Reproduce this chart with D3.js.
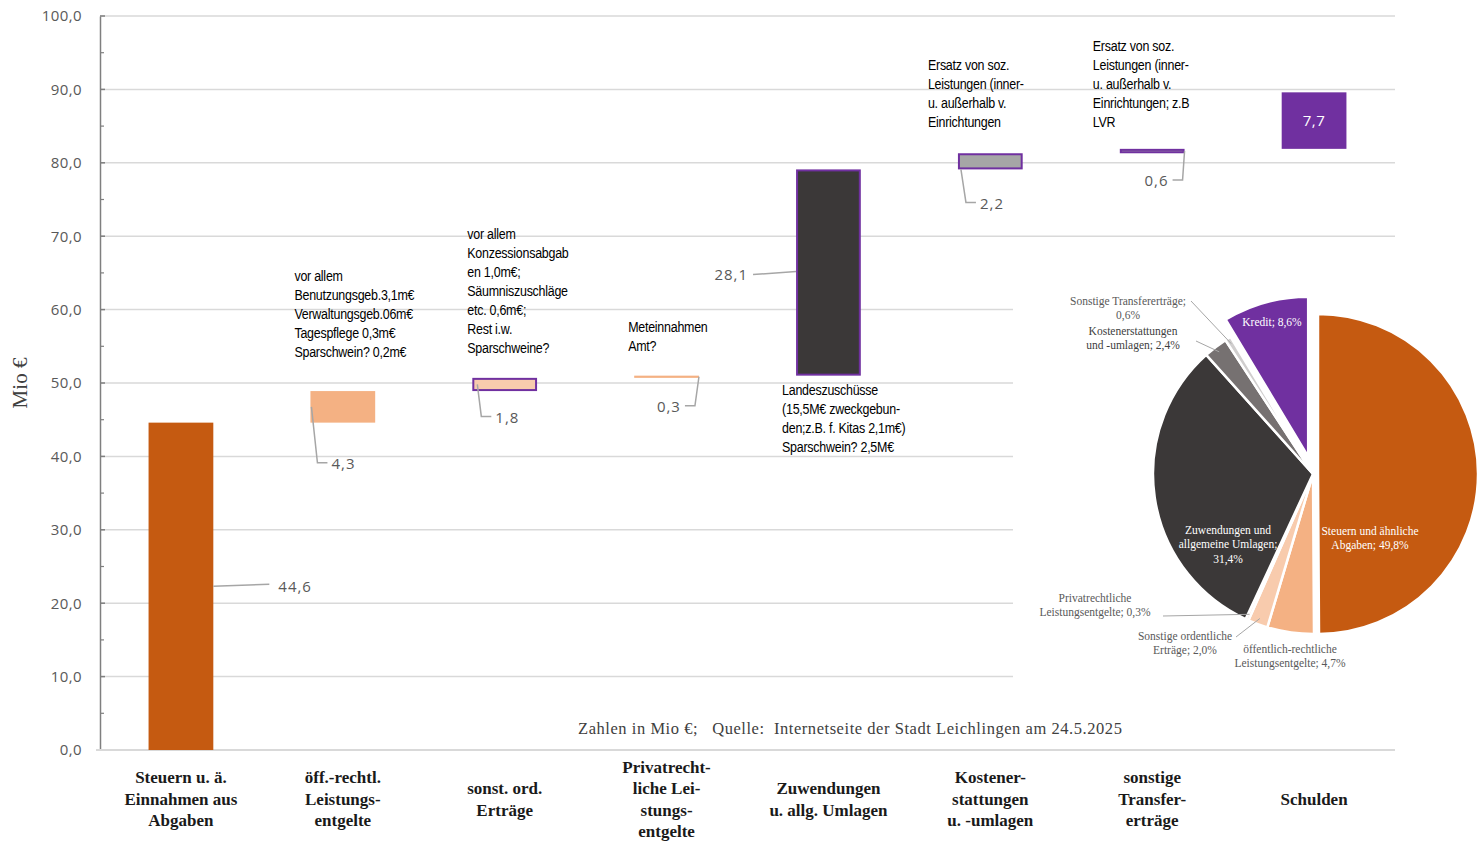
<!DOCTYPE html>
<html><head><meta charset="utf-8">
<script src="https://cdn.jsdelivr.net/npm/d3@7"></script>
<style>
html,body{margin:0;padding:0;background:#fff;}
svg{display:block;}
</style></head>
<body>
<svg id="c" width="1478" height="842"></svg>
<script>
// ---------- DATA ----------
const categories = [
  ["Steuern u. ä.", "Einnahmen aus", "Abgaben"],
  ["öff.-rechtl.", "Leistungs-", "entgelte"],
  ["sonst. ord.", "Erträge"],
  ["Privatrecht-", "liche  Lei-", "stungs-", "entgelte"],
  ["Zuwendungen", "u. allg. Umlagen"],
  ["Kostener-", "stattungen", "u. -umlagen"],
  ["sonstige", "Transfer-", "erträge"],
  ["Schulden"]
];
const values = [44.6, 4.3, 1.8, 0.3, 28.1, 2.2, 0.6, 7.7];
const yTicks = [0, 10, 20, 30, 40, 50, 60, 70, 80, 90, 100];
const yMinorTicks = [5, 15, 25, 35, 45, 55, 65, 75, 85, 95];
const annotations = [
  null,
  ["vor allem", "Benutzungsgeb.3,1m€", "Verwaltungsgeb.06m€", "Tagespflege 0,3m€", "Sparschwein? 0,2m€"],
  ["vor allem", "Konzessionsabgab", "en 1,0m€;", "Säumniszuschläge", "etc. 0,6m€;", "Rest i.w.", "Sparschweine?"],
  ["Meteinnahmen", "Amt?"],
  ["Landeszuschüsse", "(15,5M€ zweckgebun-", "den;z.B. f. Kitas 2,1m€)", "Sparschwein? 2,5M€"],
  ["Ersatz von soz.", "Leistungen (inner-", "u. außerhalb v.", "Einrichtungen"],
  ["Ersatz von soz.", "Leistungen (inner-", "u. außerhalb v.", "Einrichtungen; z.B", "LVR"],
  null
];
const pieLabels = [
  ["Steuern und ähnliche", "Abgaben; 49,8%"],
  ["öffentlich-rechtliche", "Leistungsentgelte; 4,7%"],
  ["Sonstige ordentliche", "Erträge; 2,0%"],
  ["Privatrechtliche", "Leistungsentgelte; 0,3%"],
  ["Zuwendungen und", "allgemeine Umlagen;", "31,4%"],
  ["Kostenerstattungen", "und -umlagen; 2,4%"],
  ["Sonstige Transfererträge;", "0,6%"],
  ["Kredit; 8,6%"]
];
const pieValues = [49.8, 4.7, 2.0, 0.3, 31.4, 2.4, 0.6, 8.6];
const footnote = "Zahlen in Mio €;   Quelle:  Internetseite der Stadt Leichlingen am 24.5.2025";
const yTitle = "Mio €";

// ---------- STYLES ----------
const barColors = ["#c55a11", "#f4b183", "#f8cbad", "#f4b183", "#3b3838", "#a6a6a6", "#a6a6a6", "#7030a0"];
const barBorders = [null, null, "#7030a0", null, "#7030a0", "#7030a0", "#7030a0", null];
const pieColors = ["#c55a11", "#f4b183", "#f8cbad", "#fbe5d6", "#3b3838", "#767171", "#d0cece", "#7030a0"];
const pieExplode = [5, 0, 0, 0, 0, 0, 0, 18];
const serif = "'Liberation Serif', 'DejaVu Serif', serif";
const sans = "'Open Sans', 'Noto Sans', sans-serif";
const narrow = "'Liberation Sans', Arial, sans-serif";

const svg = d3.select("#c");
const fmt = d3.formatLocale({decimal: ",", thousands: ".", grouping: [3], currency: ["", "€"]}).format(".1f");

const x = d3.scaleBand().domain(d3.range(values.length)).range([100, 1395]).paddingInner(0.6).paddingOuter(0.3);
const y = d3.scaleLinear().domain([0, 100]).range([750, 16]);
const bw = x.bandwidth();

// cumulative
let acc = 0;
const bars = values.map((v, i) => { const b = {i, v, start: acc, end: acc + v}; acc += v; return b; });

// gridlines
svg.append("g").selectAll("line").data(yTicks.filter(t => t > 0)).join("line")
  .attr("x1", 100).attr("x2", 1395).attr("y1", d => y(d)).attr("y2", d => y(d))
  .attr("stroke", "#d9d9d9").attr("stroke-width", 1.5);

// y axis
const yAxis = d3.axisLeft(y).tickValues(yTicks).tickFormat(d => fmt(d)).tickSize(0).tickPadding(18);
const ga = svg.append("g").attr("transform", "translate(100,0)").call(yAxis);
ga.select(".domain").attr("stroke", "#7f7f7f").attr("stroke-width", 1.5);
ga.selectAll("text").attr("font-family", sans).attr("font-size", 15).attr("fill", "#595959").attr("letter-spacing", 0.4);
svg.append("g").selectAll("line").data(yTicks).join("line")
  .attr("x1", 100).attr("x2", 105).attr("y1", d => y(d)).attr("y2", d => y(d))
  .attr("stroke", "#7f7f7f").attr("stroke-width", 1.5);
svg.append("g").selectAll("line").data(yMinorTicks).join("line")
  .attr("x1", 100).attr("x2", 104).attr("y1", d => y(d)).attr("y2", d => y(d))
  .attr("stroke", "#7f7f7f").attr("stroke-width", 1.2);

// baseline
svg.append("line").attr("x1", 96).attr("x2", 1395).attr("y1", y(0)).attr("y2", y(0))
  .attr("stroke", "#d9d9d9").attr("stroke-width", 2);

// y title
svg.append("text").attr("transform", `translate(27,${(y(0)+y(100))/2 + 0}) rotate(-90)`)
  .attr("text-anchor", "middle").attr("font-family", serif).attr("font-size", 21)
  .attr("fill", "#404040").text(yTitle);

// bars
svg.append("g").selectAll("rect").data(bars).join("rect")
  .attr("x", d => x(d.i) + (barBorders[d.i] ? 1 : 0))
  .attr("width", d => bw - (barBorders[d.i] ? 2 : 0))
  .attr("y", d => y(d.end) + (barBorders[d.i] ? 1 : 0))
  .attr("height", d => Math.max(y(d.start) - y(d.end) - (barBorders[d.i] ? 2 : 0), 1.5))
  .attr("fill", d => barColors[d.i])
  .attr("stroke", d => barBorders[d.i] || "none")
  .attr("stroke-width", 2);

// value labels with leaders
const lead = svg.append("g").attr("fill", "none").attr("stroke", "#a6a6a6").attr("stroke-width", 1.5);
const vl = svg.append("g").attr("font-family", sans).attr("font-size", 15).attr("fill", "#595959").attr("letter-spacing", 1);
const labelCfg = [
  {type: "straightR"}, {type: "elbowL", sx: 1, ref: "mid", dx: 6, dy: 56},
  {type: "elbowL", sx: 5, ref: "mid", dx: 4, dy: 32}, {type: "elbowR", sx: 0, ref: "mid", dx: -4, dy: 29},
  {type: "straightL"}, {type: "elbowL", sx: 3, ref: "bottom", dx: 5, dy: 33},
  {type: "elbowR", sx: 0, ref: "mid", dx: -2, dy: 29}, {type: "inside"}
];
bars.forEach(b => {
  const c = labelCfg[b.i];
  const x0 = x(b.i), ym = y((b.start + b.end) / 2);
  const txt = fmt(b.v);
  if (c.type === "straightR") {
    lead.append("path").attr("d", `M${x0+bw},${ym} L${x0+bw+56},${ym-2}`);
    vl.append("text").attr("x", x0 + bw + 65).attr("y", ym).attr("dy", "0.35em").text(txt);
  } else if (c.type === "straightL") {
    lead.append("path").attr("d", `M${x0},${ym-1} L${x0-43},${ym+2}`);
    vl.append("text").attr("x", x0 - 48).attr("y", ym + 2).attr("dy", "0.35em").attr("text-anchor", "end").text(txt);
  } else if (c.type === "elbowL") {
    const sy = c.ref === "bottom" ? y(b.start) : ym;
    const px = x0 + c.sx, ex = px + c.dx, ey = sy + c.dy;
    lead.append("path").attr("d", `M${px},${sy} L${ex},${ey} L${ex+10},${ey}`);
    vl.append("text").attr("x", ex + 14).attr("y", ey + 1).attr("dy", "0.35em").text(txt);
  } else if (c.type === "elbowR") {
    const sy = ym;
    const px = x0 + bw - c.sx, ex = px + c.dx, ey = sy + c.dy;
    lead.append("path").attr("d", `M${px},${sy} L${ex},${ey} L${ex-10},${ey}`);
    vl.append("text").attr("x", ex - 14).attr("y", ey + 1).attr("dy", "0.35em").attr("text-anchor", "end").text(txt);
  } else {
    vl.append("text").attr("x", x0 + bw / 2).attr("y", ym).attr("dy", "0.35em").attr("text-anchor", "middle")
      .attr("fill", "#fff").attr("letter-spacing", 0.5).text(txt);
  }
});

// annotations (condensed look via horizontal scale)
const annCfg = [null, {dx: -16, gap: 39}, {dx: -5, gap: 30}, {dx: -6, gap: 30}, {dx: -14, below: 14}, {dx: -30, gap: 31}, {dx: -27, gap: 27}, null];
const lh = 19, sx = 0.86;
const ag = svg.append("g").attr("font-family", narrow).attr("font-size", 14.5).attr("fill", "#000").attr("letter-spacing", -0.3);
bars.forEach(b => {
  const lines = annotations[b.i]; if (!lines) return;
  const c = annCfg[b.i];
  let firstY;
  if (c.below !== undefined) firstY = y(b.start) + c.below;
  else firstY = y(b.end) - c.gap - (lines.length - 1) * lh;
  const g = ag.append("g").attr("transform", `translate(${x(b.i) + c.dx},0) scale(${sx},1)`);
  const t = g.append("text");
  lines.forEach((l, k) => t.append("tspan").attr("x", 0).attr("y", firstY + k * lh).attr("dy", "0.35em").text(l));
});

// category labels
const cg = svg.append("g").attr("font-family", serif).attr("font-size", 17).attr("font-weight", "bold").attr("fill", "#1a1a1a").attr("text-anchor", "middle");
categories.forEach((lines, i) => {
  const cx = x(i) + bw / 2;
  const clh = 21.5, cy = 799;
  const y0 = cy - (lines.length - 1) * clh / 2;
  const t = cg.append("text");
  lines.forEach((l, k) => t.append("tspan").attr("x", cx).attr("y", y0 + k * clh).attr("dy", "0.35em").text(l));
});

// footnote
svg.append("text").attr("x", 578).attr("y", 728).attr("dy", "0.35em").attr("font-family", serif)
  .attr("font-size", 16.5).attr("letter-spacing", 0.55).attr("fill", "#404040").style("white-space", "pre").text(footnote);

// ---------- PIE ----------
svg.append("rect").attr("x", 1013).attr("y", 288).attr("width", 465).attr("height", 402).attr("fill", "#fff");
const pc = [1313, 474], R = 160;
const pie = d3.pie().sort(null).value(d => d)(pieValues);
const arc = d3.arc().innerRadius(0).outerRadius(R);
const pg = svg.append("g").attr("transform", `translate(${pc[0]},${pc[1]})`);
pg.selectAll("path").data(pie).join("path")
  .attr("transform", (d, i) => {
    const a = (d.startAngle + d.endAngle) / 2;
    return `translate(${Math.sin(a) * pieExplode[i]},${-Math.cos(a) * pieExplode[i]})`;
  })
  .attr("d", arc).attr("fill", (d, i) => pieColors[i]).attr("stroke", "#fff").attr("stroke-width", 2.5);

// pie labels
const plCfg = [
  {pos: [57, 64], color: "#fff"},
  {pos: [-23, 182], color: "#595959"},
  {pos: [-128, 169], color: "#595959", leadFrom: [-77, 163]},
  {pos: [-218, 131], color: "#595959", leadFrom: [-150, 142]},
  {pos: [-85, 70], color: "#fff"},
  {pos: [-180, -136], color: "#404040", leadFrom: [-117, -133]},
  {pos: [-185, -166], color: "#595959", leadFrom: [-122, -173]},
  {pos: [-41, -152], color: "#fff"}
];
const plh = 14.5;
const plg = pg.append("g").attr("font-family", serif).attr("font-size", 11.5).attr("text-anchor", "middle");
const plLead = pg.append("g").attr("stroke", "#a6a6a6").attr("stroke-width", 1).attr("fill", "none");
pie.forEach((d, i) => {
  const c = plCfg[i];
  const cx = c.pos[0], cy = c.pos[1];
  const lines = pieLabels[i];
  const y0 = cy - (lines.length - 1) * plh / 2;
  const t = plg.append("text").attr("fill", c.color);
  lines.forEach((l, k) => t.append("tspan").attr("x", cx).attr("y", y0 + k * plh).attr("dy", "0.35em").text(l));
  if (c.leadFrom) {
    const o = d3.arc().innerRadius(R - 6).outerRadius(R - 6).centroid(d);
    plLead.append("path").attr("d", `M${c.leadFrom[0]},${c.leadFrom[1]} L${o[0]},${o[1]}`);
  }
});
</script>
</body></html>
